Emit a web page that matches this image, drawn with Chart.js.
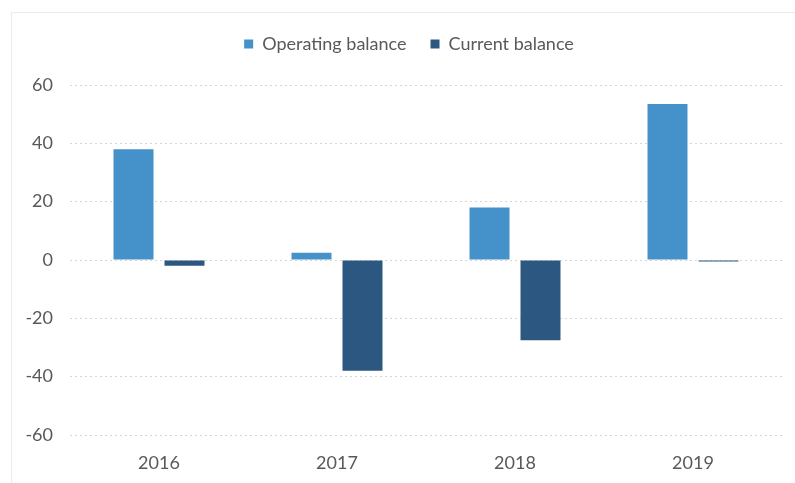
<!DOCTYPE html>
<html>
<head>
<meta charset="utf-8">
<script src="https://cdn.jsdelivr.net/npm/chart.js@4"></script>
<style>
  html, body { margin: 0; padding: 0; background: #fff; }
  #wrap { position: relative; width: 795px; height: 483px; }
  #frame { position: absolute; left: 11px; top: 12px; right: 0; bottom: 0;
           border-left: 1px solid #ebebeb; border-top: 1px solid #ebebeb; }
  canvas { position: absolute; left: 0; top: 0; }
</style>
</head>
<body>
<div id="wrap">
  <div id="frame"></div>
  <canvas id="balanceChart" width="795" height="483"></canvas>
</div>
<script>
// Balances par année
const years = ['2016', '2017', '2018', '2019'];
const operatingBalance = [38, 2.5, 18, 53.5];
const currentBalance = [-2, -38, -27.5, -0.5];
const yTicks = [-60, -40, -20, 0, 20, 40, 60];

const COL_OPERATING = '#4592cb';
const COL_CURRENT = '#2c5780';
const TEXT = '#595959';

// espace sous la légende + décalage horizontal de la légende
const legendTweak = {
  id: 'legendTweak',
  beforeInit(chart) {
    const origFit = chart.legend.fit;
    chart.legend.fit = function () {
      origFit.bind(chart.legend)();
      this.height += 22;
    };
  },
  afterLayout(chart) {
    chart.legend.left += 18;
    chart.legend.right += 18;
  }
};

const ctx = document.getElementById('balanceChart').getContext('2d');
const chart = new Chart(ctx, {
  type: 'bar',
  data: {
    labels: years,
    datasets: [
      {
        label: 'Operating balance',
        data: operatingBalance,
        backgroundColor: COL_OPERATING,
        borderWidth: 0,
        categoryPercentage: 0.573,
        barPercentage: 0.784
      },
      {
        label: 'Current balance',
        data: currentBalance,
        backgroundColor: COL_CURRENT,
        borderWidth: 0,
        categoryPercentage: 0.573,
        barPercentage: 0.784
      }
    ]
  },
  plugins: [legendTweak],
  options: {
    responsive: false,
    animation: false,
    layout: { padding: { left: 0, right: 13, top: 11, bottom: 0 } },
    plugins: {
      legend: {
        position: 'top',
        labels: {
          color: TEXT,
          font: { family: 'Lato', size: 18 },
          boxWidth: 9,
          boxHeight: 9,
          padding: 24
        }
      },
      tooltip: { enabled: false }
    },
    scales: {
      x: {
        grid: { display: false },
        border: { display: false },
        ticks: { color: TEXT, font: { family: 'Lato', size: 18, lineHeight: 1.0 }, padding: 11 }
      },
      y: {
        min: -60,
        max: 60,
        afterBuildTicks: (scale) => { scale.ticks = yTicks.map(v => ({ value: v })); },
        afterFit: (scale) => { scale.width = 70; },
        grid: { color: '#d6d6d6', lineWidth: 1, drawTicks: false },
        border: { display: false, dash: [2, 3] },
        ticks: { color: TEXT, font: { family: 'Lato', size: 18 }, padding: 17 }
      }
    }
  }
});
</script>
</body>
</html>
